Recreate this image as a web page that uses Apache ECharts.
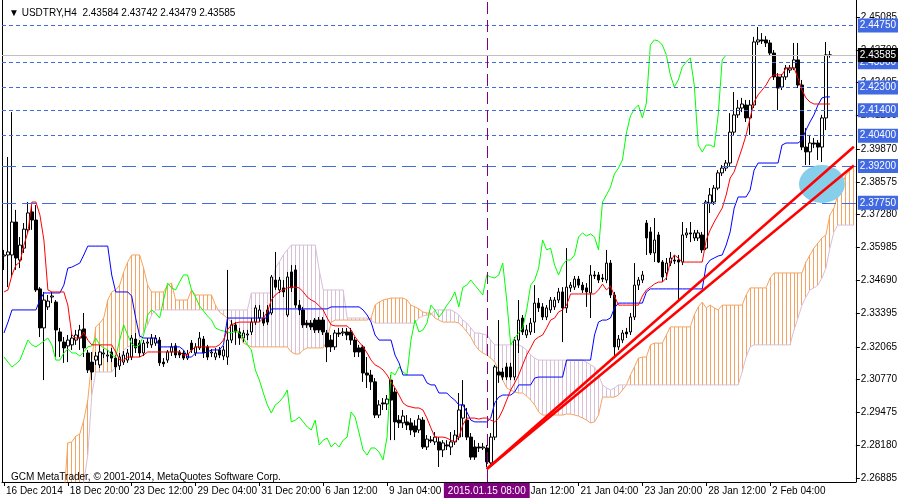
<!DOCTYPE html>
<html><head><meta charset="utf-8">
<script src="https://cdn.jsdelivr.net/npm/echarts@6/dist/echarts.min.js"></script>
<style>html,body{margin:0;padding:0;background:#fff}#c{width:900px;height:500px}</style>
</head><body><div id="c"></div>
<script>
const symbol = 'USDTRY', period = 'H4';
const xTickLabels = ['16 Dec 2014','18 Dec 20:00','23 Dec 12:00','29 Dec 04:00','31 Dec 20:00','6 Jan 12:00','9 Jan 04:00','13 Jan 20:00','16 Jan 12:00','21 Jan 04:00','23 Jan 20:00','28 Jan 12:00','2 Feb 04:00'];
const priceTickLabels = ['2.26885','2.28180','2.29475','2.30770','2.32065','2.33395','2.34690','2.35985','2.37280','2.38575','2.39870','2.41200','2.42495','2.43790','2.45085'];
const holidays = ['2014-12-25','2015-01-01'];
const cursorTime = '2015.01.15 08:00';
const levelsShortDash = [2.4475, 2.4330, 2.4230, 2.4140, 2.4040];
const levelsLongDash = [2.3920, 2.3775];
const bidPrice = 2.43585;
const trendLines = [[[121, 2.2724], [213, 2.3996]], [[121, 2.2724], [213, 2.3922]]];
const zone = [205, 2.3849];

// [open, close, low, high]
const candles = [
[2.3565,2.3569,2.3510,2.3589],[2.3569,2.3581,2.3442,2.3956],[2.3569,2.3699,2.3482,2.4133],[2.3699,2.3557,2.3510,2.3747],[2.3549,2.3608,2.3517,2.3640],
[2.3596,2.3671,2.3577,2.3695],[2.3668,2.3735,2.3656,2.3778],[2.3739,2.3707,2.3668,2.3766],[2.3707,2.3431,2.3423,2.3766],[2.3435,2.3281,2.3245,2.3442],
[2.3281,2.3391,2.3075,2.3423],[2.3364,2.3387,2.3352,2.3411],[2.3403,2.3407,2.3379,2.3423],[2.3383,2.3273,2.3166,2.3391],[2.3265,2.3229,2.3166,2.3281],
[2.3225,2.3202,2.3143,2.3245],[2.3210,2.3233,2.3146,2.3253],[2.3214,2.3241,2.3194,2.3261],[2.3233,2.3253,2.3214,2.3273],[2.3241,2.3273,2.3194,2.3293],
[2.3277,2.3202,2.3166,2.3340],[2.3182,2.3115,2.3103,2.3194],[2.3146,2.3107,2.3075,2.3186],[2.3154,2.3170,2.3135,2.3186],[2.3135,2.3186,2.3123,2.3214],
[2.3178,2.3182,2.3162,2.3198],[2.3170,2.3174,2.3146,2.3194],[2.3186,2.3162,2.3146,2.3202],[2.3162,2.3127,2.3087,2.3174],[2.3131,2.3166,2.3115,2.3182],
[2.3146,2.3174,2.3135,2.3190],[2.3154,2.3182,2.3143,2.3198],[2.3166,2.3241,2.3154,2.3253],[2.3237,2.3202,2.3182,2.3261],[2.3221,2.3182,2.3166,2.3233],
[2.3182,2.3221,2.3170,2.3233],[2.3221,2.3225,2.3202,2.3241],[2.3214,2.3241,2.3202,2.3257],[2.3221,2.3241,2.3210,2.3253],[2.3233,2.3143,2.3131,2.3245],
[2.3146,2.3139,2.3127,2.3162],[2.3154,2.3186,2.3143,2.3194],[2.3186,2.3206,2.3170,2.3221],[2.3210,2.3174,2.3162,2.3221],[2.3186,2.3174,2.3162,2.3194],
[2.3182,2.3162,2.3154,2.3194],[2.3162,2.3178,2.3154,2.3194],[2.3221,2.3194,2.3182,2.3233],[2.3182,2.3206,2.3170,2.3221],[2.3202,2.3241,2.3194,2.3265],
[2.3237,2.3182,2.3162,2.3249],[2.3206,2.3166,2.3154,2.3214],[2.3182,2.3186,2.3166,2.3198],[2.3166,2.3182,2.3154,2.3202],[2.3194,2.3174,2.3162,2.3206],
[2.3170,2.3194,2.3154,2.3210],[2.3166,2.3233,2.3135,2.3510],[2.3233,2.3293,2.3221,2.3312],[2.3293,2.3265,2.3214,2.3304],[2.3265,2.3241,2.3214,2.3281],
[2.3241,2.3261,2.3225,2.3273],[2.3253,2.3257,2.3233,2.3273],[2.3265,2.3304,2.3253,2.3320],[2.3304,2.3360,2.3293,2.3371],[2.3320,2.3352,2.3304,2.3371],
[2.3320,2.3300,2.3289,2.3344],[2.3352,2.3304,2.3293,2.3371],[2.3340,2.3482,2.3332,2.3490],[2.3470,2.3442,2.3431,2.3581],[2.3431,2.3470,2.3419,2.3482],
[2.3439,2.3423,2.3403,2.3470],[2.3332,2.3482,2.3324,2.3502],[2.3502,2.3439,2.3423,2.3529],[2.3510,2.3371,2.3360,2.3529],[2.3371,2.3352,2.3332,2.3391],
[2.3352,2.3293,2.3281,2.3364],[2.3300,2.3293,2.3281,2.3312],[2.3300,2.3285,2.3273,2.3312],[2.3312,2.3273,2.3261,2.3320],[2.3312,2.3273,2.3261,2.3324],
[2.3312,2.3265,2.3253,2.3324],[2.3261,2.3206,2.3146,2.3273],[2.3233,2.3206,2.3186,2.3253],[2.3206,2.3261,2.3194,2.3273],[2.3261,2.3257,2.3245,2.3281],
[2.3261,2.3265,2.3249,2.3281],[2.3265,2.3253,2.3233,2.3281],[2.3265,2.3233,2.3214,2.3281],[2.3233,2.3186,2.3166,2.3245],[2.3202,2.3186,2.3166,2.3214],
[2.3206,2.3103,2.3068,2.3214],[2.3103,2.3095,2.3044,2.3166],[2.3095,2.3068,2.3036,2.3115],[2.3068,2.2937,2.2925,2.3083],[2.2937,2.2977,2.2925,2.2996],
[2.2985,2.2981,2.2957,2.3004],[2.2981,2.3000,2.2957,2.3016],[2.3075,2.2996,2.2838,2.3095],[2.3028,2.2910,2.2838,2.3044],[2.2917,2.2906,2.2886,2.2937],
[2.2906,2.2933,2.2886,2.2957],[2.2910,2.2898,2.2878,2.2937],[2.2906,2.2878,2.2858,2.2925],[2.2894,2.2870,2.2850,2.2917],[2.2878,2.2921,2.2866,2.2937],
[2.2917,2.2811,2.2803,2.2929],[2.2811,2.2842,2.2799,2.2858],[2.2839,2.2835,2.2827,2.2854],[2.2831,2.2850,2.2819,2.2870],[2.2831,2.2799,2.2732,2.2850],
[2.2799,2.2827,2.2771,2.2838],[2.2819,2.2815,2.2799,2.2838],[2.2811,2.2831,2.2779,2.2870],[2.2831,2.2858,2.2819,2.2878],[2.2850,2.2957,2.2838,2.3024],
[2.2925,2.2977,2.2850,2.3075],[2.2917,2.2850,2.2838,2.2965],[2.2850,2.2771,2.2760,2.2866],[2.2811,2.2771,2.2760,2.2838],[2.2811,2.2807,2.2791,2.2827],
[2.2807,2.2811,2.2799,2.2827],[2.2807,2.2752,2.2732,2.2819],[2.2748,2.2850,2.2740,2.2866],[2.2850,2.3127,2.2838,2.3135],[2.3107,2.3095,2.3064,2.3312],
[2.3107,2.3087,2.3075,2.3123],[2.3127,2.3087,2.3075,2.3143],[2.3127,2.3087,2.3075,2.3143],[2.3087,2.3233,2.3075,2.3245],[2.3233,2.3312,2.3182,2.3391],
[2.3320,2.3265,2.3253,2.3332],[2.3253,2.3273,2.3241,2.3293],[2.3265,2.3300,2.3253,2.3320],[2.3304,2.3379,2.3261,2.3450],[2.3379,2.3360,2.3344,2.3399],
[2.3364,2.3324,2.3312,2.3379],[2.3324,2.3360,2.3312,2.3371],[2.3352,2.3391,2.3340,2.3403],[2.3364,2.3391,2.3352,2.3403],[2.3391,2.3423,2.3379,2.3439],
[2.3423,2.3360,2.3225,2.3442],[2.3360,2.3442,2.3340,2.3596],[2.3439,2.3450,2.3423,2.3462],[2.3442,2.3474,2.3431,2.3486],[2.3474,2.3450,2.3439,2.3486],
[2.3450,2.3431,2.3419,2.3462],[2.3439,2.3423,2.3364,2.3458],[2.3419,2.3490,2.3320,2.3529],[2.3490,2.3486,2.3474,2.3506],[2.3490,2.3470,2.3458,2.3502],
[2.3478,2.3474,2.3462,2.3494],[2.3470,2.3537,2.3458,2.3589],[2.3537,2.3411,2.3399,2.3549],[2.3411,2.3206,2.3166,2.3423],[2.3206,2.3237,2.3194,2.3253],
[2.3233,2.3261,2.3221,2.3273],[2.3265,2.3257,2.3241,2.3281],[2.3265,2.3324,2.3253,2.3340],[2.3324,2.3450,2.3312,2.3537],[2.3450,2.3470,2.3431,2.3482],
[2.3470,2.3490,2.3458,2.3506],[2.3695,2.3636,2.3569,2.3707],[2.3660,2.3577,2.3569,2.3679],[2.3577,2.3628,2.3541,2.3715],[2.3648,2.3541,2.3537,2.3660],
[2.3541,2.3482,2.3462,2.3549],[2.3498,2.3537,2.3470,2.3557],[2.3537,2.3557,2.3525,2.3581],[2.3549,2.3545,2.3533,2.3569],[2.3549,2.3541,2.3391,2.3569],
[2.3541,2.3648,2.3529,2.3699],[2.3648,2.3656,2.3636,2.3675],[2.3656,2.3652,2.3620,2.3699],[2.3636,2.3656,2.3624,2.3668],[2.3636,2.3656,2.3624,2.3668],
[2.3648,2.3589,2.3577,2.3660],[2.3596,2.3778,2.3589,2.3786],[2.3774,2.3806,2.3735,2.3833],[2.3778,2.3833,2.3766,2.3845],[2.3833,2.3893,2.3825,2.3904],
[2.3893,2.3912,2.3881,2.3924],[2.3912,2.3932,2.3900,2.3944],[2.3932,2.4054,2.3920,2.4129],[2.4054,2.4122,2.4043,2.4212],[2.4122,2.4149,2.4110,2.4181],
[2.4149,2.4165,2.4133,2.4189],[2.4161,2.4110,2.4094,2.4181],[2.4110,2.4161,2.4043,2.4181],[2.4161,2.4410,2.4149,2.4430],[2.4410,2.4418,2.4398,2.4469],
[2.4418,2.4414,2.4402,2.4445],[2.4418,2.4406,2.4390,2.4433],[2.4406,2.4366,2.4355,2.4418],[2.4366,2.4272,2.4260,2.4378],[2.4272,2.4228,2.4141,2.4287],
[2.4232,2.4272,2.4220,2.4283],[2.4272,2.4307,2.4260,2.4319],[2.4299,2.4307,2.4287,2.4319],[2.4307,2.4339,2.4299,2.4406],[2.4339,2.4240,2.4228,2.4406],
[2.4240,2.3995,2.3983,2.4260],[2.3995,2.3976,2.3924,2.4070],[2.3976,2.4011,2.3924,2.4043],[2.4011,2.4007,2.3991,2.4031],[2.4011,2.3995,2.3944,2.4023],
[2.3995,2.4110,2.3936,2.4122],[2.4110,2.4359,2.4062,2.4410],[2.43584,2.43585,2.43479,2.43742]
];

const tenkan = [
2.3423,2.3431,2.3490,2.3529,2.3541,2.3608,2.3660,2.3778,2.3778,2.3727,
2.3628,2.3431,2.3423,2.3423,2.3423,2.3423,2.3371,2.3253,2.3241,2.3241,
2.3265,2.3233,2.3214,2.3214,2.3214,2.3214,2.3214,2.3214,2.3186,2.3154,
2.3154,2.3166,2.3166,2.3166,2.3166,2.3174,2.3186,2.3186,2.3186,2.3186,
2.3186,2.3186,2.3186,2.3186,2.3186,2.3174,2.3174,2.3194,2.3206,2.3206,
2.3206,2.3206,2.3206,2.3206,2.3214,2.3233,2.3273,2.3293,2.3300,2.3304,
2.3304,2.3304,2.3304,2.3304,2.3304,2.3320,2.3344,2.3391,2.3411,2.3423,
2.3431,2.3439,2.3442,2.3442,2.3439,2.3423,2.3403,2.3391,2.3383,2.3368,
2.3352,2.3320,2.3293,2.3289,2.3289,2.3289,2.3289,2.3273,2.3245,2.3225,
2.3206,2.3182,2.3154,2.3135,2.3127,2.3115,2.3095,2.3068,2.3044,2.3016,
2.2985,2.2973,2.2969,2.2965,2.2965,2.2957,2.2925,2.2886,2.2850,2.2850,
2.2850,2.2846,2.2838,2.2831,2.2850,2.2898,2.2925,2.2925,2.2925,2.2921,
2.2925,2.2925,2.2917,2.2910,2.2925,2.2957,2.2996,2.3036,2.3064,2.3095,
2.3135,2.3174,2.3202,2.3233,2.3245,2.3253,2.3281,2.3312,2.3320,2.3344,
2.3352,2.3371,2.3415,2.3415,2.3415,2.3415,2.3415,2.3415,2.3415,2.3431,
2.3454,2.3431,2.3446,2.3407,2.3371,2.3371,2.3371,2.3371,2.3371,2.3371,
2.3407,2.3431,2.3442,2.3454,2.3462,2.3462,2.3478,2.3541,2.3569,2.3557,
2.3541,2.3541,2.3541,2.3541,2.3541,2.3541,2.3628,2.3668,2.3699,2.3727,
2.3754,2.3806,2.3873,2.3897,2.3944,2.3991,2.4043,2.4110,2.4173,2.4201,
2.4220,2.4240,2.4268,2.4280,2.4280,2.4280,2.4307,2.4307,2.4307,2.4268,
2.4220,2.4189,2.4173,2.4165,2.4165,2.4165,2.4165,2.4165
];

const kijun = [
2.3261,2.3304,2.3352,2.3352,2.3352,2.3352,2.3352,2.3352,2.3352,2.3391,
2.3419,2.3419,2.3419,2.3419,2.3419,2.3450,2.3517,2.3521,2.3529,2.3537,
2.3569,2.3604,2.3604,2.3604,2.3604,2.3604,2.3604,2.3490,2.3423,2.3423,
2.3423,2.3423,2.3407,2.3320,2.3249,2.3241,2.3241,2.3241,2.3241,2.3206,
2.3206,2.3206,2.3206,2.3206,2.3206,2.3194,2.3166,2.3166,2.3182,2.3182,
2.3182,2.3186,2.3194,2.3194,2.3194,2.3214,2.3320,2.3320,2.3320,2.3320,
2.3320,2.3320,2.3320,2.3320,2.3320,2.3320,2.3320,2.3356,2.3356,2.3356,
2.3356,2.3356,2.3356,2.3356,2.3356,2.3356,2.3356,2.3356,2.3356,2.3356,
2.3356,2.3356,2.3364,2.3364,2.3364,2.3364,2.3364,2.3364,2.3364,2.3364,
2.3352,2.3332,2.3304,2.3253,2.3233,2.3233,2.3233,2.3233,2.3174,2.3143,
2.3095,2.3095,2.3095,2.3095,2.3095,2.3095,2.3064,2.3056,2.3056,2.3024,
2.3024,2.3024,2.3008,2.2996,2.2977,2.2977,2.2949,2.2917,2.2910,2.2910,
2.2910,2.2910,2.2925,2.2985,2.3008,2.3016,2.3016,2.3016,2.3028,2.3056,
2.3056,2.3056,2.3056,2.3083,2.3087,2.3087,2.3087,2.3087,2.3087,2.3087,
2.3087,2.3154,2.3154,2.3154,2.3154,2.3154,2.3154,2.3154,2.3253,2.3304,
2.3312,2.3312,2.3320,2.3360,2.3379,2.3379,2.3379,2.3379,2.3379,2.3379,
2.3379,2.3423,2.3435,2.3435,2.3435,2.3435,2.3435,2.3435,2.3435,2.3435,
2.3435,2.3435,2.3435,2.3435,2.3435,2.3435,2.3529,2.3549,2.3557,2.3565,
2.3569,2.3608,2.3660,2.3754,2.3798,2.3798,2.3798,2.3825,2.3904,2.3932,
2.3932,2.3932,2.3932,2.3932,2.3932,2.4003,2.4011,2.4011,2.4011,2.4011,
2.4023,2.4062,2.4094,2.4122,2.4161,2.4189,2.4193,2.4193
];

const chikou = [
2.3166,2.3146,2.3127,2.3139,2.3154,2.3194,2.3233,2.3214,2.3206,2.3217,
2.3229,2.3241,2.3214,2.3154,2.3154,2.3182,2.3198,2.3182,2.3182,2.3170,
2.3186,2.3206,2.3210,2.3241,2.3214,2.3202,2.3194,2.3174,2.3166,2.3233,
2.3293,2.3253,2.3217,2.3206,2.3214,2.3253,2.3332,2.3352,2.3340,2.3320,
2.3391,2.3458,2.3439,2.3431,2.3462,2.3490,2.3490,2.3431,2.3403,2.3368,
2.3348,2.3328,2.3312,2.3281,2.3273,2.3269,2.3265,2.3261,2.3269,2.3261,
2.3241,2.3214,2.3194,2.3115,2.3075,2.3024,2.2977,2.2945,2.2977,2.2989,
2.3008,2.3036,2.2910,2.2917,2.2929,2.2910,2.2890,2.2878,2.2917,2.2819,
2.2838,2.2846,2.2811,2.2827,2.2811,2.2838,2.2850,2.2949,2.2929,2.2866,
2.2799,2.2779,2.2807,2.2807,2.2791,2.2760,2.2850,2.3107,2.3095,2.3127,
2.3107,2.3095,2.3233,2.3312,2.3265,2.3273,2.3300,2.3371,2.3352,2.3324,
2.3344,2.3371,2.3391,2.3423,2.3364,2.3442,2.3450,2.3470,2.3450,2.3431,
2.3411,2.3490,2.3482,2.3478,2.3490,2.3537,2.3391,2.3214,2.3241,2.3261,
2.3281,2.3352,2.3450,2.3470,2.3517,2.3628,2.3589,2.3596,2.3529,2.3490,
2.3529,2.3549,2.3549,2.3569,2.3640,2.3656,2.3644,2.3652,2.3640,2.3589,
2.3778,2.3806,2.3837,2.3889,2.3912,2.3944,2.4051,2.4118,2.4145,2.4161,
2.4110,2.4169,2.4398,2.4418,2.4414,2.4398,2.4359,2.4280,2.4232,2.4260,
2.4311,2.4331,2.4347,2.4240,2.4003,2.3976,2.4003,2.4003,2.3995,2.4122,
2.4339,2.4359
];

const spanA = [
null,null,null,null,null,null,null,null,null,null,
null,null,null,null,null,2.2602,2.2827,2.2831,2.2854,2.2862,
2.2917,2.2996,2.3154,2.3285,2.3300,2.3320,2.3391,2.3423,2.3431,2.3450,
2.3502,2.3541,2.3569,2.3569,2.3569,2.3517,2.3450,2.3423,2.3423,2.3423,
2.3423,2.3450,2.3458,2.3391,2.3391,2.3391,2.3391,2.3431,2.3411,2.3411,
2.3411,2.3411,2.3411,2.3371,2.3344,2.3332,2.3320,2.3304,2.3281,2.3261,
2.3221,2.3214,2.3206,2.3206,2.3206,2.3206,2.3206,2.3206,2.3206,2.3206,
2.3206,2.3206,2.3186,2.3178,2.3178,2.3194,2.3202,2.3202,2.3202,2.3202,
2.3202,2.3233,2.3304,2.3312,2.3312,2.3312,2.3312,2.3312,2.3312,2.3312,
2.3312,2.3312,2.3320,2.3371,2.3383,2.3391,2.3395,2.3399,2.3399,2.3399,
2.3399,2.3391,2.3371,2.3364,2.3356,2.3344,2.3340,2.3340,2.3320,2.3312,
2.3304,2.3304,2.3304,2.3304,2.3300,2.3285,2.3265,2.3245,2.3214,2.3194,
2.3182,2.3174,2.3162,2.3146,2.3115,2.3075,2.3044,2.3036,2.3028,2.3024,
2.3024,2.3012,2.2996,2.2977,2.2949,2.2937,2.2937,2.2937,2.2937,2.2937,
2.2937,2.2941,2.2941,2.2937,2.2933,2.2925,2.2917,2.2906,2.2910,2.2937,
2.3008,2.3008,2.3008,2.3008,2.3016,2.3036,2.3056,2.3095,2.3127,2.3162,
2.3166,2.3166,2.3214,2.3221,2.3221,2.3221,2.3253,2.3285,2.3285,2.3285,
2.3285,2.3285,2.3285,2.3332,2.3364,2.3383,2.3360,2.3371,2.3360,2.3352,
2.3371,2.3371,2.3371,2.3371,2.3371,2.3371,2.3411,2.3439,2.3439,2.3439,
2.3439,2.3439,2.3478,2.3498,2.3498,2.3498,2.3498,2.3498,2.3498,2.3498,
2.3498,2.3541,2.3569,2.3596,2.3616,2.3636,2.3648,2.3727,2.3754,2.3806,
2.3845,2.3885,2.3904,2.3916
];

const spanB = [
null,null,null,null,null,null,null,null,null,null,
null,null,null,null,null,null,2.2602,2.2602,2.2602,2.2622,
2.2673,2.2779,2.3016,2.3107,2.3107,2.3107,2.3107,2.3107,2.3127,2.3154,
2.3194,2.3206,2.3214,2.3225,2.3241,2.3265,2.3293,2.3332,2.3352,2.3352,
2.3352,2.3352,2.3352,2.3352,2.3352,2.3352,2.3352,2.3352,2.3352,2.3352,
2.3352,2.3352,2.3352,2.3352,2.3352,2.3352,2.3352,2.3352,2.3352,2.3352,
2.3352,2.3352,2.3419,2.3419,2.3419,2.3419,2.3419,2.3419,2.3517,2.3541,
2.3569,2.3589,2.3608,2.3608,2.3608,2.3608,2.3608,2.3608,2.3608,2.3510,
2.3431,2.3431,2.3431,2.3431,2.3431,2.3431,2.3320,2.3320,2.3320,2.3320,
2.3320,2.3320,2.3312,2.3300,2.3300,2.3300,2.3300,2.3300,2.3300,2.3300,
2.3300,2.3300,2.3300,2.3300,2.3320,2.3328,2.3332,2.3332,2.3352,2.3352,
2.3352,2.3352,2.3352,2.3344,2.3332,2.3312,2.3300,2.3281,2.3261,2.3261,
2.3257,2.3253,2.3233,2.3214,2.3214,2.3214,2.3214,2.3214,2.3214,2.3214,
2.3206,2.3194,2.3174,2.3162,2.3154,2.3154,2.3154,2.3154,2.3154,2.3154,
2.3154,2.3154,2.3154,2.3154,2.3154,2.3154,2.3146,2.3135,2.3127,2.3095,
2.3056,2.3044,2.3036,2.3044,2.3056,2.3056,2.3056,2.3056,2.3056,2.3056,
2.3056,2.3056,2.3056,2.3056,2.3056,2.3056,2.3056,2.3056,2.3056,2.3056,
2.3056,2.3056,2.3056,2.3056,2.3056,2.3056,2.3056,2.3056,2.3056,2.3056,
2.3056,2.3056,2.3056,2.3056,2.3056,2.3107,2.3166,2.3206,2.3214,2.3214,
2.3214,2.3214,2.3214,2.3214,2.3214,2.3214,2.3214,2.3214,2.3273,2.3320,
2.3371,2.3403,2.3431,2.3439,2.3450,2.3478,2.3517,2.3596,2.3660,2.3687,
2.3687,2.3687,2.3687,2.3687
];

// ---- time categories (H4 bars, weekends and holidays skipped) ----
const N_BARS = spanA.length;
function pad(n){return (n<10?'0':'')+n;}
const categories = [];
(function(){
  let t = Date.UTC(2014, 11, 16, 4);
  while (categories.length < N_BARS) {
    const d = new Date(t);
    const wd = d.getUTCDay();
    const ds = d.toISOString().slice(0,10);
    if (wd !== 0 && wd !== 6 && holidays.indexOf(ds) < 0) {
      categories.push(d.getUTCFullYear()+'.'+pad(d.getUTCMonth()+1)+'.'+pad(d.getUTCDate())+' '+pad(d.getUTCHours())+':00');
    }
    t += 4*3600*1000;
  }
})();
const cursorIdx = categories.indexOf(cursorTime);

const CLOUD_UP = '#F4A460', CLOUD_DN = '#D8BFD8';
const hatch = [], hatchColors = [];
for (let i = 0; i < N_BARS; i++) {
  if (spanA[i] != null && spanB[i] != null) {
    hatch.push([i, spanA[i], spanB[i]]);
    hatchColors.push(spanA[i] >= spanB[i] ? CLOUD_UP : CLOUD_DN);
  }
}

const FONT = 'Liberation Sans';
const Y_MIN = 2.26727, Y_MAX = 2.45756;
const priceTicks = priceTickLabels.map(Number);
const tickShow = function(i){ return i % 16 === 0 && (i/16) < xTickLabels.length; };
const last = candles[candles.length-1];
const titleText = '\u25BC ' + symbol + ',' + period + '  ' + [last[0], last[3], last[2], last[1]].map(v => v.toFixed(5)).join(' ');

const blueLabel = {show:true, position:'end', distance:2, formatter:p => Number(p.value).toFixed(5),
  backgroundColor:'#4169E1', color:'#fff', fontSize:10, fontFamily:FONT, padding:[2,2,1,2], lineHeight:11};
const markData = [];
levelsShortDash.forEach(v => markData.push({yAxis:v, lineStyle:{color:'#4169E1', type:[4,3], width:1}, label:blueLabel}));
levelsLongDash.forEach(v => markData.push({yAxis:v, lineStyle:{color:'#4169E1', type:[14,6], width:1}, label:blueLabel}));
markData.push({yAxis:bidPrice, lineStyle:{color:'#C0C0C0', type:'solid', width:1},
  label:Object.assign({}, blueLabel, {backgroundColor:'#000'})});
markData.push({xAxis:cursorIdx, lineStyle:{color:'#800080', type:[12,6], width:1},
  label:{show:true, position:'start', distance:1, formatter:cursorTime, backgroundColor:'#800080', color:'#fff',
    fontSize:10, fontFamily:FONT, padding:[3,4,2,4]}});

const chart = echarts.init(document.getElementById('c'), null, {renderer:'canvas'});
const lineSeries = (data, color, z) => ({type:'line', data:data, symbol:'none', silent:true, z:z,
  lineStyle:{color:color, width:1}, itemStyle:{color:color}, connectNulls:false, animation:false});

chart.setOption({
  animation:false,
  backgroundColor:'#ffffff',
  textStyle:{fontFamily:FONT},
  title:[
    {text:titleText, left:4, top:3, textStyle:{fontSize:10, fontWeight:'normal', color:'#000', fontFamily:FONT}},
    {text:'GCM MetaTrader, \u00A9 2001-2014, MetaQuotes Software Corp.', left:6, top:467,
     textStyle:{fontSize:10, fontWeight:'normal', color:'#000', fontFamily:FONT}}
  ],
  grid:{left:2, right:43, top:0, bottom:18},
  xAxis:{type:'category', data:categories, boundaryGap:true,
    axisLine:{show:true, lineStyle:{color:'#000', width:1}},
    axisTick:{show:true, alignWithLabel:true, interval:tickShow, length:4, lineStyle:{color:'#000'}},
    axisLabel:{interval:tickShow, formatter:(v,i) => (i%16===0 && xTickLabels[i/16]) ? xTickLabels[i/16] : '',
      align:'left', color:'#000', fontSize:10, margin:4, padding:[0,0,0,2], fontFamily:FONT},
    splitLine:{show:false}},
  yAxis:[
    {type:'value', position:'right', min:Y_MIN, max:Y_MAX,
      axisLine:{show:true, lineStyle:{color:'#000'}},
      axisTick:{show:true, length:4, customValues:priceTicks, lineStyle:{color:'#000'}},
      axisLabel:{customValues:priceTicks, formatter:v => v.toFixed(5), color:'#000', fontSize:10, margin:5, fontFamily:FONT},
      splitLine:{show:false}},
    {type:'value', position:'left', min:Y_MIN, max:Y_MAX,
      axisLine:{show:true, lineStyle:{color:'#000'}},
      axisTick:{show:false}, axisLabel:{show:false}, splitLine:{show:false}}
  ],
  series:[
    {type:'custom', name:'cloud', data:hatch, encode:{x:0, y:[1,2]}, clip:true, silent:true, z:1,
      renderItem:function(params, api){
        const i = api.value(0);
        const a = api.coord([i, api.value(1)]);
        const b = api.coord([i, api.value(2)]);
        return {type:'rect', shape:{x:Math.floor(a[0]), y:Math.min(a[1], b[1]), width:1, height:Math.abs(a[1]-b[1])},
          style:{fill: hatchColors[params.dataIndex], stroke:null}};
      }},
    lineSeries(spanA, CLOUD_UP, 2),
    lineSeries(spanB, CLOUD_DN, 2),
    {type:'candlestick', name:symbol, data:candles, barWidth:3, z:3, silent:true,
      itemStyle:{color:'#ffffff', color0:'#000000', borderColor:'#000000', borderColor0:'#000000', borderWidth:1},
      markLine:{symbol:['none','none'], silent:true, animation:false, precision:5, data:markData}},
    lineSeries(chikou, '#00FF00', 4),
    lineSeries(kijun, '#0000FF', 4),
    lineSeries(tenkan, '#FF0000', 4),
    {type:'scatter', data:[zone], symbol:'circle', symbolSize:[46,38], silent:true, z:6,
      itemStyle:{color:'#87CEEB', opacity:1}},
    Object.assign(lineSeries(trendLines[0], '#FF0000', 7), {lineStyle:{color:'#FF0000', width:2.5}}),
    Object.assign(lineSeries(trendLines[1], '#FF0000', 7), {lineStyle:{color:'#FF0000', width:2.5}})
  ]
});
</script>
</body></html>
